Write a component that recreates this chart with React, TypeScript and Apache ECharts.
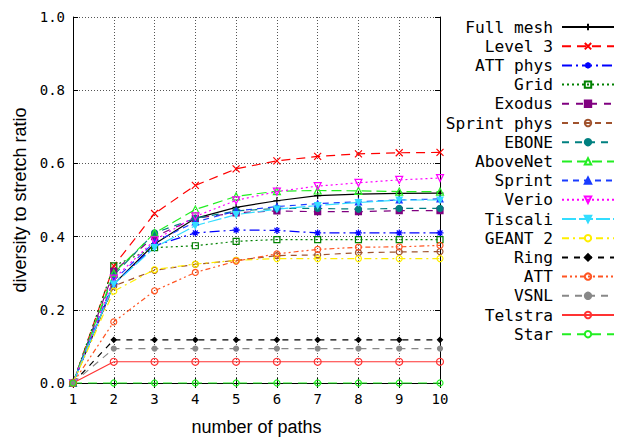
import React, { useEffect, useRef } from "react";
import * as echarts from "echarts";

// number of paths on the x axis
const paths = [1, 2, 3, 4, 5, 6, 7, 8, 9, 10];
const yTicks = [0, 0.2, 0.4, 0.6, 0.8, 1.0];

// diversity to stretch ratio per topology
const fullMesh = [0, 0.27, 0.38, 0.45, 0.48, 0.498, 0.512, 0.516, 0.518, 0.519];
const level3 = [0, 0.32, 0.463, 0.54, 0.585, 0.607, 0.619, 0.626, 0.629, 0.63];
const attPhys = [0, 0.27, 0.375, 0.41, 0.418, 0.417, 0.41, 0.41, 0.41, 0.41];
const gridNet = [0, 0.32, 0.37, 0.375, 0.387, 0.392, 0.392, 0.392, 0.392, 0.392];
const exodus = [0, 0.305, 0.4, 0.45, 0.465, 0.47, 0.468, 0.468, 0.471, 0.471];
const sprintPhys = [0, 0.265, 0.308, 0.324, 0.335, 0.348, 0.35, 0.356, 0.358, 0.359];
const ebone = [0, 0.295, 0.41, 0.45, 0.47, 0.477, 0.477, 0.475, 0.477, 0.477];
const aboveNet = [0, 0.3, 0.41, 0.474, 0.51, 0.524, 0.526, 0.525, 0.523, 0.523];
const sprint = [0, 0.28, 0.385, 0.44, 0.47, 0.482, 0.49, 0.495, 0.5, 0.503];
const verio = [0, 0.285, 0.39, 0.455, 0.499, 0.523, 0.538, 0.547, 0.555, 0.56];
const tiscali = [0, 0.27, 0.37, 0.43, 0.46, 0.475, 0.485, 0.493, 0.5, 0.5];
const geant2 = [0, 0.251, 0.31, 0.325, 0.335, 0.34, 0.34, 0.34, 0.34, 0.34];
const ring = [0, 0.118, 0.118, 0.118, 0.118, 0.118, 0.118, 0.118, 0.118, 0.118];
const att = [0, 0.167, 0.252, 0.302, 0.333, 0.353, 0.365, 0.371, 0.372, 0.376];
const vsnl = [0, 0.094, 0.094, 0.094, 0.094, 0.094, 0.094, 0.094, 0.094, 0.094];
const telstra = [0, 0.058, 0.058, 0.058, 0.058, 0.058, 0.058, 0.058, 0.058, 0.058];
const star = [0, 0, 0, 0, 0, 0, 0, 0, 0, 0];

const PLUS = "path://M0,5H10M5,0V10";
const CROSS = "path://M0,0L10,10M10,0L0,10";
const ASTER = "path://M5,0V10M0,5H10M1.5,1.5L8.5,8.5M8.5,1.5L1.5,8.5";

type Spec = {
  name: string;
  values: number[];
  color: string;
  dash: number[] | "solid";
  symbol: string;
  filled: boolean;
  size: number;
  rotate?: number;
};

const specs: Spec[] = [
  { name: "Full mesh", values: fullMesh, color: "#000000", dash: "solid", symbol: PLUS, filled: false, size: 7 },
  { name: "Level 3", values: level3, color: "#ff0000", dash: [9, 6], symbol: CROSS, filled: false, size: 7 },
  { name: "ATT phys", values: attPhys, color: "#0000ff", dash: [10, 4, 2, 4], symbol: ASTER, filled: false, size: 7 },
  { name: "Grid", values: gridNet, color: "#008000", dash: [2, 3], symbol: "rect", filled: false, size: 6 },
  { name: "Exodus", values: exodus, color: "#800080", dash: [7, 7], symbol: "rect", filled: true, size: 6 },
  { name: "Sprint phys", values: sprintPhys, color: "#a0522d", dash: [6, 5], symbol: "circle", filled: false, size: 6 },
  { name: "EBONE", values: ebone, color: "#008080", dash: [7, 6], symbol: "circle", filled: true, size: 6 },
  { name: "AboveNet", values: aboveNet, color: "#22ee22", dash: [10, 5], symbol: "triangle", filled: false, size: 7 },
  { name: "Sprint", values: sprint, color: "#1a3cff", dash: [6, 5], symbol: "triangle", filled: true, size: 6 },
  { name: "Verio", values: verio, color: "#ff00ff", dash: [2, 3], symbol: "triangle", filled: false, size: 7, rotate: 180 },
  { name: "Tiscali", values: tiscali, color: "#33ddff", dash: [14, 3], symbol: "triangle", filled: true, size: 6, rotate: 180 },
  { name: "GEANT 2", values: geant2, color: "#ffee00", dash: [7, 4, 2, 4], symbol: "circle", filled: false, size: 6 },
  { name: "Ring", values: ring, color: "#000000", dash: [6, 6], symbol: "diamond", filled: true, size: 5 },
  { name: "ATT", values: att, color: "#ff5522", dash: [5, 3, 2, 3, 2, 3], symbol: "circle", filled: false, size: 6 },
  { name: "VSNL", values: vsnl, color: "#888888", dash: [7, 6], symbol: "circle", filled: true, size: 5 },
  { name: "Telstra", values: telstra, color: "#ff3333", dash: "solid", symbol: "circle", filled: false, size: 7 },
  { name: "Star", values: star, color: "#22ee22", dash: [9, 6], symbol: "circle", filled: false, size: 6 },
];

const MONO = "DejaVu Sans Mono";
const SANS = "Liberation Sans";
const legendText = {
  fontFamily: MONO,
  fontSize: 16.2,
  color: "#000",
  fontWeight: "normal" as const,
  padding: [0, 4, 0, 0],
};

export default function App() {
  const ref = useRef<HTMLDivElement>(null);

  useEffect(() => {
    if (!ref.current) return;
    const chart = echarts.init(ref.current, undefined, { renderer: "svg" });

    const series = specs.map((s) => ({
      name: s.name,
      type: "line",
      clip: false,
      data: paths.map((x, i) => [x, s.values[i]]),
      symbol: s.symbol,
      symbolSize: s.size,
      symbolRotate: s.rotate ?? 0,
      showAllSymbol: true,
      lineStyle: { color: s.color, width: 1.2, type: s.dash },
      itemStyle: {
        color: s.filled ? s.color : "none",
        borderColor: s.color,
        borderWidth: 1.2,
      },
      emphasis: { disabled: true },
    }));

    const gridLine = { show: true, lineStyle: { color: "#555", type: [1, 2], width: 1 } };

    chart.setOption({
      animation: false,
      grid: { left: 73, top: 17, right: 177, bottom: 57, containLabel: false },
      legend: {
        orient: "vertical",
        align: "right",
        right: 2,
        top: 19,
        bottom: 0,
        padding: 0,
        itemWidth: 52,
        itemHeight: 8,
        itemGap: 3.2,
        textStyle: legendText,
        data: specs.map((s) => ({ name: s.name, textStyle: legendText })),
      },
      xAxis: [
        {
          type: "value",
          min: 1,
          max: 10,
          interval: 1,
          name: "number of paths",
          nameLocation: "middle",
          nameGap: 35,
          nameTextStyle: { fontFamily: SANS, fontSize: 18, color: "#000" },
          axisLine: { show: true, lineStyle: { color: "#000", width: 1 } },
          axisTick: { show: true, inside: true, length: 5, lineStyle: { color: "#000" } },
          axisLabel: { fontFamily: MONO, fontSize: 14, color: "#000", margin: 9 },
          splitLine: gridLine,
        },
        {
          type: "value",
          position: "top",
          min: 1,
          max: 10,
          interval: 1,
          axisLine: { show: true, lineStyle: { color: "#000", width: 1 } },
          axisTick: { show: true, inside: true, length: 5, lineStyle: { color: "#000" } },
          axisLabel: { show: false },
          splitLine: { show: false },
        },
      ],
      yAxis: [
        {
          type: "value",
          min: 0,
          max: 1,
          interval: 0.2,
          name: "diversity to stretch ratio",
          nameLocation: "middle",
          nameGap: 40,
          nameTextStyle: { fontFamily: SANS, fontSize: 18, color: "#000" },
          axisLine: { show: true, lineStyle: { color: "#000", width: 1 } },
          axisTick: { show: true, inside: true, length: 5, lineStyle: { color: "#000" } },
          axisLabel: {
            fontFamily: MONO,
            fontSize: 14,
            color: "#000",
            margin: 8,
            formatter: (v: number) => {
              const t = yTicks.find((k) => Math.abs(k - v) < 1e-9);
              return (t ?? v).toFixed(1);
            },
          },
          splitLine: gridLine,
        },
        {
          type: "value",
          position: "right",
          min: 0,
          max: 1,
          interval: 0.2,
          axisLine: { show: true, lineStyle: { color: "#000", width: 1 } },
          axisTick: { show: true, inside: true, length: 5, lineStyle: { color: "#000" } },
          axisLabel: { show: false },
          splitLine: { show: false },
        },
      ],
      series,
    });

    return () => chart.dispose();
  }, []);

  return <div ref={ref} style={{ width: 617, height: 441, position: "absolute", left: 0, top: 0 }} />;
}
